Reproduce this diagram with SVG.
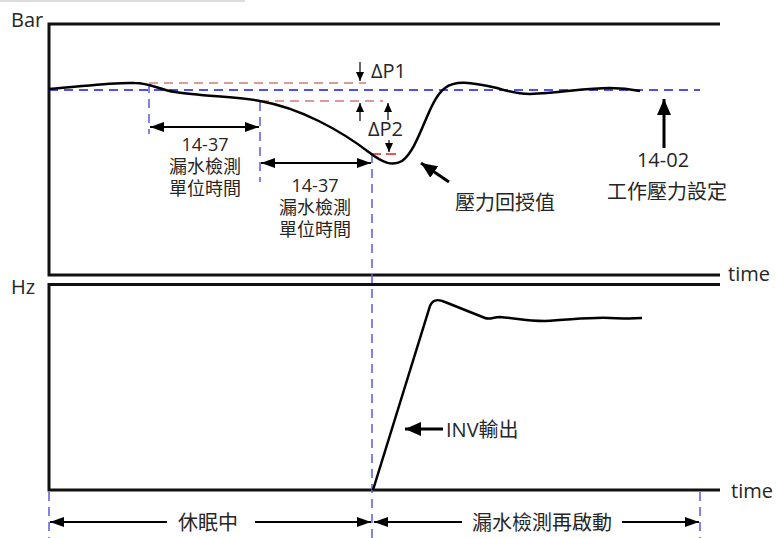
<svg xmlns="http://www.w3.org/2000/svg" width="776" height="538" viewBox="0 0 776 538">
<style>
.t{font-family:"Open Sans","Noto Sans CJK TC",sans-serif;font-size:20px;fill:#262626}
.b{font-size:18px}
.ax{stroke:#111;stroke-width:3;fill:none}
.crv{stroke:#000;stroke-width:2.5;fill:none}
.set{stroke:#1515ee;stroke-width:1.5;stroke-dasharray:9,6;fill:none}
.vd{stroke:#5a5ae6;stroke-width:1.5;stroke-dasharray:9,6;fill:none}
.pk{stroke:#dc9c9c;stroke-width:2;stroke-dasharray:9,6;fill:none}
.rd{stroke:#e02020;stroke-width:1.5;fill:none}
.dim{stroke:#000;stroke-width:1.8;fill:none;marker-start:url(#ah);marker-end:url(#ah)}
.ar{stroke:#000;stroke-width:1.8;fill:none;marker-end:url(#ah)}
.sa{stroke:#000;stroke-width:1.2;fill:none;marker-end:url(#sh)}
.big{stroke:#000;stroke-width:3;fill:none;marker-end:url(#bh)}
</style>
<defs>
<marker id="ah" viewBox="0 0 14 10" refX="14" refY="5" markerWidth="14" markerHeight="10" markerUnits="userSpaceOnUse" orient="auto-start-reverse"><path d="M0,0 L14,5 L0,10 z" fill="#000"/></marker>
<marker id="sh" viewBox="0 0 9 8" refX="9" refY="4" markerWidth="9" markerHeight="8" markerUnits="userSpaceOnUse" orient="auto"><path d="M0,0 L9,4 L0,8 z" fill="#000"/></marker>
<marker id="bh" viewBox="0 0 16 14" refX="16" refY="7" markerWidth="16" markerHeight="14" markerUnits="userSpaceOnUse" orient="auto"><path d="M0,0 L16,7 L0,14 z" fill="#000"/></marker>
</defs>
<rect width="776" height="538" fill="#fff"/>
<line x1="0" y1="1" x2="245" y2="1" stroke="#ddd" stroke-width="2"/>

<g id="bar-panel">
<text class="t" x="11" y="27" font-size="18">Bar</text>
<path class="ax" d="M720,24 H49 V275 H720"/>
<text class="t" x="728" y="281" font-size="21">time</text>
</g>

<g id="hz-panel">
<text class="t" x="11" y="294" font-size="18">Hz</text>
<path class="ax" d="M720,284.5 H49 V490 H720"/>
<text class="t" x="731" y="498" font-size="21">time</text>
</g>

<g id="guides">
<line class="set" x1="49" y1="90" x2="700" y2="90"/>
<line class="pk" x1="149" y1="83" x2="366" y2="83"/>
<line class="pk" x1="260" y1="101" x2="383" y2="101"/>
<line class="vd" x1="149" y1="84" x2="149" y2="134"/>
<line class="vd" x1="260" y1="102" x2="260" y2="182"/>
<line class="vd" x1="372" y1="154" x2="372" y2="538"/>
<line class="vd" x1="49" y1="492" x2="49" y2="538"/>
<line class="vd" x1="700" y1="492" x2="700" y2="538"/>
<line class="rd" x1="370" y1="154" x2="381" y2="154"/>
<line class="rd" x1="386" y1="154" x2="396" y2="154"/>
</g>

<g id="pressure-curve">
<path class="crv" d="M49,89 C80,87 110,82 135,83 C150,83 160,90 175,92 C200,96 240,97 260,101 C300,108 340,130 370,153 C382,162 392,167 402,161 C420,148 428,100 445,88 C455,80 470,82 497,88 C510,92 518,94 530,94 C560,93 585,88 610,88 C625,88 635,90 640,91"/>
</g>

<g id="hz-curve">
<path class="crv" d="M373,490 L430,306 C433,299 438,299 445,302 L485,318 C490,320 493,317 500,317 C515,318 525,321 545,321 C570,320 590,317 610,318 C625,319 635,318 642,318"/>
</g>

<g id="dp1">
<line class="sa" x1="360" y1="62" x2="360" y2="81"/>
<line class="sa" x1="360" y1="121" x2="360" y2="103"/>
<text class="t" x="371" y="78" font-size="18">ΔP1</text>
</g>

<g id="dp2">
<line class="sa" x1="388" y1="120" x2="388" y2="103"/>
<line class="sa" x1="389" y1="140" x2="389" y2="152"/>
<text class="t" x="368" y="136" font-size="18">ΔP2</text>
</g>

<g id="dim1">
<line class="dim" x1="150" y1="127" x2="259" y2="127"/>
<text class="t b" text-anchor="middle"><tspan x="205" y="151">14-37</tspan><tspan x="205" y="173">漏水檢測</tspan><tspan x="205" y="195">單位時間</tspan></text>
</g>

<g id="dim2">
<line class="dim" x1="261" y1="163" x2="371" y2="163"/>
<text class="t b" text-anchor="middle"><tspan x="315" y="192">14-37</tspan><tspan x="315" y="214">漏水檢測</tspan><tspan x="315" y="236">單位時間</tspan></text>
</g>

<g id="feedback">
<line class="big" x1="449" y1="182" x2="421" y2="163"/>
<text class="t" x="505" y="210" text-anchor="middle">壓力回授值</text>
</g>

<g id="setpoint">
<line class="big" x1="664" y1="148" x2="664" y2="99"/>
<text class="t" text-anchor="middle"><tspan x="663" y="167">14-02</tspan><tspan x="667" y="199">工作壓力設定</tspan></text>
</g>

<g id="inv">
<line class="big" x1="443" y1="429" x2="405" y2="429"/>
<text class="t" x="446" y="437">INV輸出</text>
</g>

<g id="sleep">
<line class="ar" x1="167" y1="522" x2="50" y2="522"/>
<line class="ar" x1="255" y1="522" x2="371" y2="522"/>
<text class="t" x="208" y="530" text-anchor="middle">休眠中</text>
</g>

<g id="restart">
<line class="ar" x1="462" y1="522" x2="374" y2="522"/>
<line class="ar" x1="622" y1="522" x2="699" y2="522"/>
<text class="t" x="542" y="530" text-anchor="middle">漏水檢測再啟動</text>
</g>
</svg>
